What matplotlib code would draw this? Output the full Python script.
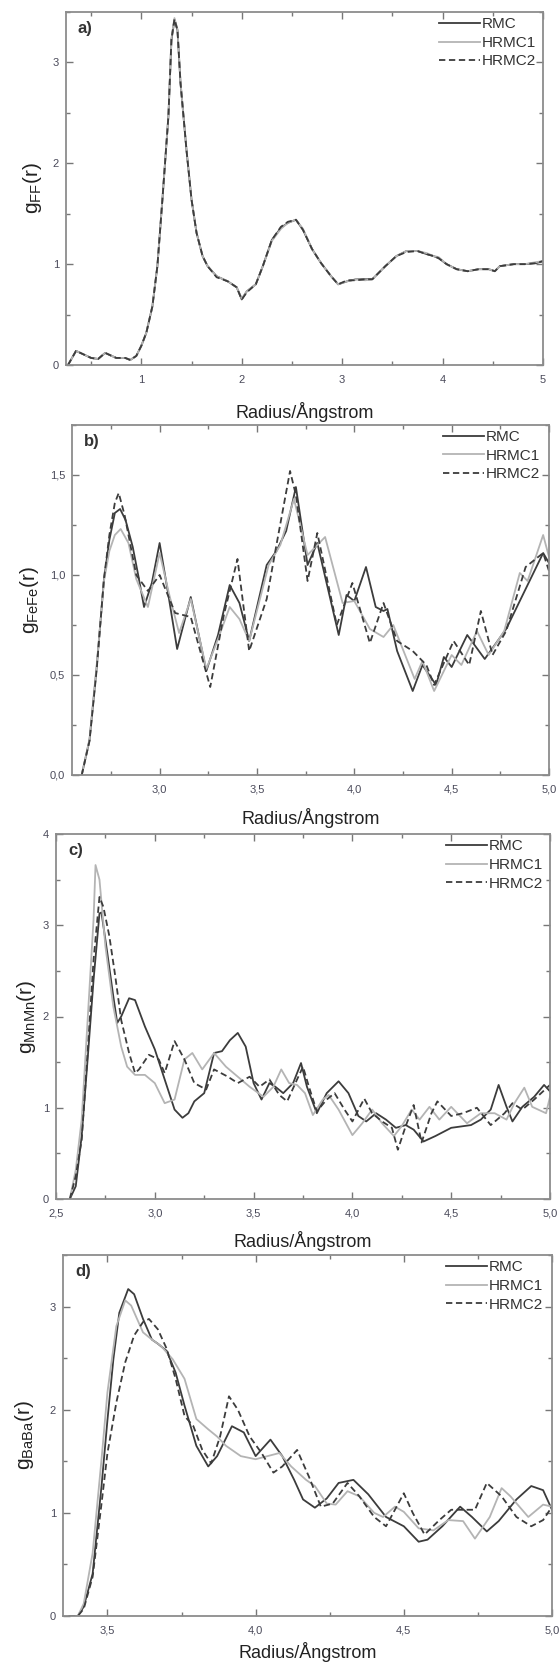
import matplotlib
matplotlib.use("Agg")
import matplotlib.pyplot as plt
from matplotlib.ticker import MultipleLocator, FuncFormatter

plt.rcParams['font.family'] = ['Liberation Sans', 'DejaVu Sans']
plt.rcParams['mathtext.default'] = 'regular'

# ---------------- data ----------------
series_names = ["RMC", "HRMC1", "HRMC2"]
panel_labels = ["a)", "b)", "c)", "d)"]
ylabels = ["g$_{FF}$(r)", "g$_{FeFe}$(r)", "g$_{MnMn}$(r)", "g$_{BaBa}$(r)"]
xlabel_text = "Radius/Ångstrom"

# panel a
ra = [0.27, 0.35, 0.5, 0.57, 0.64, 0.75, 0.84, 0.89, 0.95, 1.0, 1.05, 1.11, 1.16, 1.21, 1.27,
      1.30, 1.33, 1.36, 1.39, 1.45, 1.5, 1.55, 1.61, 1.66, 1.75, 1.86, 1.95, 2.0, 2.05, 2.14,
      2.21, 2.30, 2.39, 2.46, 2.54, 2.61, 2.70, 2.79, 2.89, 2.96, 3.05, 3.14, 3.23, 3.30, 3.43,
      3.54, 3.64, 3.75, 3.84, 3.91, 3.96, 4.04, 4.14, 4.25, 4.36, 4.46, 4.52, 4.57, 4.71, 4.82,
      4.93, 5.0]
ga_rmc = [0.0, 0.14, 0.07, 0.06, 0.12, 0.07, 0.07, 0.05, 0.09, 0.19, 0.32, 0.58, 0.98, 1.64, 2.47,
          3.22, 3.42, 3.32, 2.80, 2.13, 1.64, 1.31, 1.08, 0.98, 0.88, 0.83, 0.77, 0.65, 0.73, 0.80,
          0.98, 1.24, 1.36, 1.41, 1.44, 1.34, 1.15, 1.01, 0.88, 0.80, 0.83, 0.85, 0.85, 0.85, 0.98,
          1.08, 1.13, 1.13, 1.10, 1.08, 1.06, 1.00, 0.95, 0.93, 0.95, 0.95, 0.93, 0.98, 1.00, 1.00,
          1.01, 1.03]
ga_hrmc1 = [0.0, 0.14, 0.07, 0.06, 0.12, 0.07, 0.07, 0.05, 0.09, 0.19, 0.32, 0.58, 0.98, 1.64, 2.47,
            3.24, 3.44, 3.33, 2.81, 2.13, 1.64, 1.31, 1.08, 0.98, 0.88, 0.83, 0.77, 0.66, 0.73, 0.80,
            0.98, 1.23, 1.35, 1.41, 1.44, 1.35, 1.15, 1.01, 0.88, 0.80, 0.83, 0.85, 0.84, 0.85, 0.98,
            1.08, 1.13, 1.13, 1.11, 1.08, 1.07, 1.00, 0.95, 0.93, 0.95, 0.95, 0.93, 0.98, 1.00, 1.00,
            1.02, 1.03]
ga_hrmc2 = [0.0, 0.14, 0.07, 0.06, 0.12, 0.07, 0.07, 0.05, 0.09, 0.19, 0.32, 0.58, 0.98, 1.64, 2.47,
            3.23, 3.43, 3.32, 2.80, 2.13, 1.64, 1.31, 1.08, 0.98, 0.87, 0.83, 0.77, 0.65, 0.72, 0.80,
            0.98, 1.24, 1.37, 1.42, 1.44, 1.34, 1.15, 1.01, 0.88, 0.80, 0.84, 0.84, 0.85, 0.85, 0.98,
            1.08, 1.12, 1.13, 1.10, 1.08, 1.06, 1.00, 0.95, 0.93, 0.95, 0.95, 0.93, 0.98, 1.00, 1.00,
            1.01, 1.03]

# panel b
rb_rmc = [2.60, 2.64, 2.677, 2.714, 2.742, 2.77, 2.797, 2.825, 2.862, 2.89, 2.92, 2.96, 3.0, 3.045,
          3.09, 3.16, 3.24, 3.30, 3.36, 3.41, 3.46, 3.55, 3.60, 3.65, 3.70, 3.76, 3.81, 3.86, 3.92,
          3.96, 4.0, 4.06, 4.11, 4.15, 4.17, 4.22, 4.30, 4.35, 4.42, 4.46, 4.50, 4.58, 4.67, 4.78,
          4.88, 4.97, 5.0, 5.05]
gb_rmc = [0.0, 0.175, 0.54, 0.975, 1.175, 1.31, 1.33, 1.275, 1.14, 1.0, 0.84, 0.96, 1.16, 0.90,
          0.63, 0.89, 0.52, 0.70, 0.95, 0.86, 0.67, 1.05, 1.12, 1.22, 1.44, 1.05, 1.16, 0.95, 0.70,
          0.90, 0.87, 1.04, 0.84, 0.82, 0.83, 0.62, 0.42, 0.55, 0.45, 0.59, 0.54, 0.70, 0.58, 0.73,
          0.93, 1.11, 1.06, 1.27]
rb_hrmc1 = [2.60, 2.64, 2.677, 2.714, 2.742, 2.77, 2.80, 2.84, 2.88, 2.94, 3.0, 3.05, 3.10, 3.16,
            3.24, 3.30, 3.36, 3.41, 3.46, 3.56, 3.62, 3.69, 3.76, 3.85, 3.94, 4.0, 4.08, 4.15, 4.20,
            4.31, 4.35, 4.41, 4.50, 4.55, 4.63, 4.69, 4.77, 4.85, 4.89, 4.97, 5.0, 5.03]
gb_hrmc1 = [0.0, 0.18, 0.55, 0.97, 1.12, 1.20, 1.23, 1.16, 0.98, 0.84, 1.11, 0.90, 0.71, 0.88,
            0.53, 0.68, 0.84, 0.78, 0.67, 1.05, 1.15, 1.38, 1.10, 1.19, 0.86, 0.87, 0.73, 0.69, 0.75,
            0.48, 0.57, 0.42, 0.60, 0.55, 0.72, 0.60, 0.72, 1.01, 0.97, 1.20, 1.09, 1.08]
rb_hrmc2 = [2.60, 2.64, 2.677, 2.714, 2.742, 2.77, 2.79, 2.82, 2.88, 2.94, 3.0, 3.08, 3.16, 3.26,
            3.33, 3.40, 3.46, 3.55, 3.60, 3.67, 3.70, 3.76, 3.81, 3.91, 3.99, 4.08, 4.15, 4.22, 4.30,
            4.37, 4.41, 4.51, 4.59, 4.65, 4.71, 4.78, 4.88, 4.97, 5.02]
gb_hrmc2 = [0.0, 0.17, 0.53, 0.98, 1.20, 1.36, 1.41, 1.30, 1.0, 0.92, 1.0, 0.81, 0.79, 0.44,
            0.80, 1.08, 0.62, 0.88, 1.15, 1.52, 1.40, 0.97, 1.21, 0.75, 0.96, 0.66, 0.86, 0.67, 0.62,
            0.55, 0.45, 0.67, 0.55, 0.82, 0.60, 0.72, 1.04, 1.11, 0.96]

# panel c
rc_rmc = [2.57, 2.60, 2.63, 2.66, 2.69, 2.72, 2.73, 2.76, 2.79, 2.81, 2.83, 2.87, 2.90, 2.95, 3.0,
          3.05, 3.10, 3.14, 3.17, 3.20, 3.25, 3.30, 3.34, 3.38, 3.42, 3.46, 3.50, 3.54, 3.58, 3.61,
          3.65, 3.70, 3.74, 3.77, 3.82, 3.87, 3.93, 3.98, 4.03, 4.07, 4.12, 4.17, 4.22, 4.27, 4.31,
          4.36, 4.42, 4.50, 4.60, 4.65, 4.70, 4.74, 4.78, 4.81, 4.86, 4.92, 4.97, 5.0]
gc_rmc = [0.0, 0.14, 0.69, 1.53, 2.40, 3.13, 3.14, 2.69, 2.22, 1.93, 2.0, 2.20, 2.18, 1.89, 1.64,
          1.31, 0.98, 0.89, 0.94, 1.07, 1.16, 1.60, 1.62, 1.74, 1.82, 1.67, 1.27, 1.09, 1.27, 1.23,
          1.16, 1.27, 1.49, 1.23, 0.94, 1.16, 1.29, 1.16, 0.91, 0.85, 0.94, 0.87, 0.78, 0.81, 0.76,
          0.63, 0.69, 0.78, 0.81, 0.87, 0.98, 1.25, 1.01, 0.85, 1.01, 1.12, 1.25, 1.18]
rc_hrmc1 = [2.57, 2.60, 2.63, 2.66, 2.69, 2.70, 2.72, 2.75, 2.79, 2.83, 2.86, 2.90, 2.95, 3.0,
            3.05, 3.10, 3.15, 3.19, 3.24, 3.30, 3.36, 3.42, 3.48, 3.55, 3.60, 3.64, 3.68, 3.72,
            3.76, 3.80, 3.85, 3.88, 3.93, 4.0, 4.05, 4.10, 4.15, 4.21, 4.25, 4.30, 4.34, 4.39,
            4.44, 4.50, 4.58, 4.65, 4.72, 4.78, 4.82, 4.87, 4.91, 4.98, 5.0]
gc_hrmc1 = [0.0, 0.32, 0.87, 1.96, 3.06, 3.66, 3.50, 2.77, 2.11, 1.67, 1.45, 1.36, 1.36, 1.27,
            1.05, 1.09, 1.53, 1.60, 1.42, 1.60, 1.45, 1.34, 1.23, 1.12, 1.23, 1.42, 1.27, 1.25,
            1.16, 0.92, 1.09, 1.14, 0.98, 0.70, 0.83, 0.98, 0.83, 0.69, 0.80, 0.98, 0.87, 1.01,
            0.87, 1.01, 0.83, 0.94, 0.94, 0.87, 1.05, 1.22, 1.01, 0.94, 1.12]
rc_hrmc2 = [2.57, 2.60, 2.63, 2.66, 2.69, 2.72, 2.74, 2.77, 2.80, 2.83, 2.87, 2.90, 2.92, 2.97,
            3.02, 3.05, 3.10, 3.15, 3.20, 3.26, 3.30, 3.37, 3.42, 3.48, 3.53, 3.58, 3.63, 3.67,
            3.72, 3.75, 3.78, 3.82, 3.87, 3.91, 3.96, 4.0, 4.06, 4.10, 4.15, 4.20, 4.23, 4.27,
            4.31, 4.35, 4.40, 4.43, 4.50, 4.56, 4.63, 4.70, 4.77, 4.81, 4.86, 4.92, 5.0]
gc_hrmc2 = [0.0, 0.25, 0.65, 1.60, 2.62, 3.31, 3.20, 2.88, 2.44, 1.96, 1.60, 1.38, 1.42, 1.58,
            1.53, 1.38, 1.73, 1.53, 1.27, 1.20, 1.42, 1.34, 1.27, 1.34, 1.23, 1.31, 1.14, 1.07,
            1.31, 1.45, 1.23, 0.96, 1.09, 1.16, 0.98, 0.85, 1.10, 0.94, 0.85, 0.78, 0.54, 0.80,
            1.03, 0.62, 0.94, 1.07, 0.91, 0.94, 1.00, 0.81, 0.94, 1.05, 0.98, 1.09, 1.25]

# panel d
rd_rmc = [3.37, 3.40, 3.42, 3.45, 3.48, 3.50, 3.52, 3.54, 3.57, 3.59, 3.62, 3.65, 3.67, 3.70,
          3.73, 3.76, 3.80, 3.84, 3.87, 3.92, 3.96, 4.0, 4.05, 4.09, 4.13, 4.16, 4.20, 4.24, 4.28,
          4.33, 4.38, 4.44, 4.50, 4.55, 4.58, 4.63, 4.69, 4.73, 4.78, 4.82, 4.88, 4.93, 4.97, 5.0]
gd_rmc = [0.0, 0.0, 0.09, 0.41, 1.26, 1.90, 2.49, 2.94, 3.17, 3.12, 2.88, 2.68, 2.64, 2.57,
          2.36, 2.04, 1.65, 1.45, 1.55, 1.84, 1.78, 1.55, 1.71, 1.55, 1.32, 1.13, 1.05, 1.14, 1.29,
          1.32, 1.18, 0.96, 0.87, 0.72, 0.74, 0.87, 1.06, 0.96, 0.82, 0.92, 1.13, 1.26, 1.22, 1.03]
rd_hrmc1 = [3.37, 3.40, 3.42, 3.45, 3.48, 3.50, 3.53, 3.56, 3.58, 3.62, 3.65, 3.68, 3.72, 3.76,
            3.80, 3.84, 3.87, 3.90, 3.95, 4.0, 4.04, 4.08, 4.12, 4.17, 4.20, 4.24, 4.27, 4.31,
            4.35, 4.40, 4.43, 4.47, 4.50, 4.55, 4.60, 4.65, 4.70, 4.74, 4.79, 4.83, 4.86, 4.92,
            4.97, 5.0]
gd_hrmc1 = [0.0, 0.0, 0.12, 0.61, 1.52, 2.17, 2.81, 3.06, 3.01, 2.75, 2.68, 2.62, 2.49, 2.30,
            1.91, 1.81, 1.74, 1.65, 1.55, 1.52, 1.55, 1.58, 1.45, 1.32, 1.26, 1.09, 1.08, 1.21,
            1.16, 1.0, 0.96, 1.06, 1.01, 0.85, 0.83, 0.93, 0.92, 0.75, 0.96, 1.24, 1.16, 0.96,
            1.08, 1.06]
rd_hrmc2 = [3.37, 3.40, 3.42, 3.45, 3.48, 3.50, 3.53, 3.56, 3.59, 3.62, 3.64, 3.67, 3.70, 3.73,
            3.76, 3.79, 3.82, 3.85, 3.88, 3.91, 3.94, 3.98, 4.02, 4.06, 4.09, 4.14, 4.18, 4.22,
            4.26, 4.31, 4.35, 4.40, 4.44, 4.47, 4.50, 4.53, 4.57, 4.62, 4.66, 4.70, 4.74, 4.78,
            4.83, 4.88, 4.93, 4.97, 5.0]
gd_hrmc2 = [0.0, 0.0, 0.07, 0.38, 1.09, 1.58, 2.07, 2.46, 2.72, 2.85, 2.88, 2.78, 2.59, 2.30,
            1.94, 1.84, 1.61, 1.48, 1.74, 2.13, 2.0, 1.74, 1.58, 1.39, 1.45, 1.61, 1.35, 1.06,
            1.09, 1.29, 1.16, 0.96, 0.87, 1.03, 1.19, 1.0, 0.79, 0.93, 1.03, 1.03, 1.03, 1.29,
            1.16, 0.96, 0.87, 0.93, 1.06]

panels = [
    [(ra, ga_rmc), (ra, ga_hrmc1), (ra, ga_hrmc2)],
    [(rb_rmc, gb_rmc), (rb_hrmc1, gb_hrmc1), (rb_hrmc2, gb_hrmc2)],
    [(rc_rmc, gc_rmc), (rc_hrmc1, gc_hrmc1), (rc_hrmc2, gc_hrmc2)],
    [(rd_rmc, gd_rmc), (rd_hrmc1, gd_hrmc1), (rd_hrmc2, gd_hrmc2)],
]

xlims = [(0.25, 5.0), (2.55, 5.0), (2.5, 5.0), (3.35, 5.0)]
ylims = [(0, 3.5), (0, 1.75), (0, 4.0), (0, 3.5)]
x_major = [1.0, 0.5, 0.5, 0.5]
x_minor = [0.5, 0.25, 0.25, 0.25]
y_major = [1.0, 0.5, 1.0, 1.0]
y_minor = [0.5, 0.25, 0.5, 0.5]
x_dec = [0, 1, 1, 1]
y_dec = [0, 1, 0, 0]

# axes rectangles in pixels: left, right, top, bottom
W, H = 559, 1668
rects_px = [(66, 543, 12, 365), (72, 549, 425, 775), (56, 550, 834, 1199), (63, 552, 1255, 1616)]
xlabel_offset_px = [47, 43, 42, 36]
ylabel_center_px = [32, 30, 26, 25]
legend_right_px = [536, 540, 543, 543]

styles = [
    dict(color="#3c3c3c", lw=1.3, ls="-"),
    dict(color="#b4b4b4", lw=1.3, ls="-"),
    dict(color="#3c3c3c", lw=1.3, ls=(0, (3.5, 2))),
]

fig = plt.figure(figsize=(W / 100, H / 100), dpi=100)

def comma_fmt(dec):
    def f(v, pos):
        s = f"{v:.{dec}f}"
        return s.replace(".", ",")
    return FuncFormatter(f)

for i in range(4):
    l, r, t, b = rects_px[i]
    ax = fig.add_axes([l / W, 1 - b / H, (r - l) / W, (b - t) / H])
    for (xs, ys), name, st in zip(panels[i], series_names, styles):
        ax.plot(xs, ys, label=name, color=st["color"], lw=st["lw"], ls=st["ls"])
    ax.set_xlim(*xlims[i])
    ax.set_ylim(*ylims[i])
    ax.xaxis.set_major_locator(MultipleLocator(x_major[i]))
    ax.xaxis.set_minor_locator(MultipleLocator(x_minor[i]))
    ax.yaxis.set_major_locator(MultipleLocator(y_major[i]))
    ax.yaxis.set_minor_locator(MultipleLocator(y_minor[i]))
    ax.xaxis.set_major_formatter(comma_fmt(x_dec[i]))
    ax.yaxis.set_major_formatter(comma_fmt(y_dec[i]))
    ax.tick_params(which="both", direction="in", top=True, right=True, color="#777777",
                   labelcolor="#4a4a5a", labelsize=8)
    ax.tick_params(which="major", length=5, width=1.0)
    ax.tick_params(which="minor", length=3, width=1.0)
    ax.tick_params(axis="x", pad=7)
    ax.tick_params(axis="y", pad=5)
    for sp in ax.spines.values():
        sp.set_color("#8c8c8c")
        sp.set_linewidth(1.3)
    hpx = b - t
    ax.set_xlabel(xlabel_text, fontsize=13, color="#222222", va="center")
    ax.xaxis.set_label_coords(0.5, -xlabel_offset_px[i] / hpx)
    ax.set_ylabel(ylabels[i], fontsize=15, color="#222222", va="center")
    ax.yaxis.set_label_coords(-(l - ylabel_center_px[i]) / (r - l), 0.5)
    ax.text(0.025, 0.975, panel_labels[i], transform=ax.transAxes, fontsize=12,
            fontweight="bold", color="#333333", va="top", ha="left")
    leg = ax.legend(loc="upper right",
                    bbox_to_anchor=((legend_right_px[i] - l) / (r - l), 0.985),
                    frameon=False, fontsize=11, handlelength=2.7, handletextpad=0.1,
                    labelspacing=0.3, borderaxespad=0.0, borderpad=0.0)
    for txt in leg.get_texts():
        txt.set_color("#333333")

fig.savefig("out.png", dpi=100)
